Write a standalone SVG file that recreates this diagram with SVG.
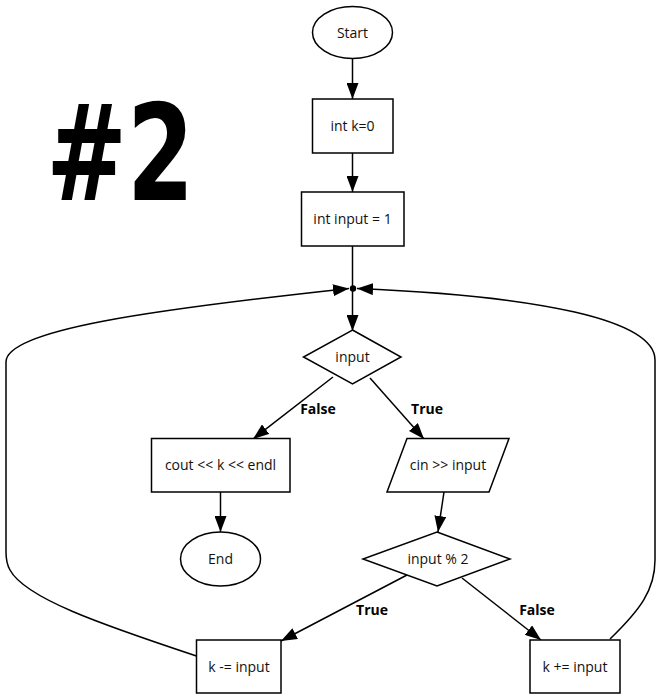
<svg xmlns="http://www.w3.org/2000/svg" width="661" height="700" viewBox="0 0 661 700">
<style>
.n{fill:#fff;stroke:#000;stroke-width:1.5}
.t{font-family:"Open Sans","Noto Sans",sans-serif;font-size:14px;fill:#111;text-anchor:middle}
.l{font-family:"Open Sans","Noto Sans",sans-serif;font-size:14px;font-weight:bold;fill:#000;text-anchor:middle}
.e{fill:none;stroke:#000;stroke-width:1.5}
</style>
<defs>
<marker id="a" markerUnits="userSpaceOnUse" viewBox="0 0 16 12" refX="16" refY="6" markerWidth="16" markerHeight="12" orient="auto">
<path d="M0,0 L16,6 L0,12 z" fill="#000"/>
</marker>
</defs>
<rect width="661" height="700" fill="#fff"/>
<text transform="scale(0.72,1)" x="167" y="200" font-family="DejaVu Sans, sans-serif" font-weight="bold" font-size="134" text-anchor="middle" fill="#000">#2</text>
<g id="connectors">
<path class="e" d="M352.5,59 L352.5,99" marker-end="url(#a)"/>
<path class="e" d="M352.5,153 L352.5,192" marker-end="url(#a)"/>
<path class="e" d="M352.5,246 L352.5,288"/>
<path class="e" d="M352.5,288 L352.5,331" marker-end="url(#a)"/>
<path class="e" d="M333,377 L253,439" marker-end="url(#a)"/>
<path class="e" d="M370,378 L424,439" marker-end="url(#a)"/>
<path class="e" d="M220.5,492 L220.5,532" marker-end="url(#a)"/>
<path class="e" d="M444,492 L438,532" marker-end="url(#a)"/>
<path class="e" d="M407,575 L281,641" marker-end="url(#a)"/>
<path class="e" d="M462,578 L541,640" marker-end="url(#a)"/>
<path class="e" d="M196.5,656 C100,624 25,598 10,570 Q6,563 6,552 L6,362 C6,330 150,310 349,288.5" marker-end="url(#a)"/>
<path class="e" d="M610,639 C640,610 655,590 655,560 L655,360 C655,320 540,296 357,288.5" marker-end="url(#a)"/>
<circle cx="353" cy="288.5" r="3.2" fill="#000"/>
<text class="l" x="318" y="414">False</text>
<text class="l" x="427" y="414">True</text>
<text class="l" x="372" y="615">True</text>
<text class="l" x="537" y="615">False</text>
</g>
<g id="start"><ellipse class="n" cx="352.5" cy="32.5" rx="40" ry="26"/><text class="t" x="352.5" y="37.5">Start</text></g>
<g id="initk"><rect class="n" x="312.5" y="99" width="80.5" height="54"/><text class="t" x="352.5" y="131">int k=0</text></g>
<g id="initinput"><rect class="n" x="301.5" y="192" width="102.5" height="54"/><text class="t" x="352.5" y="224">int input = 1</text></g>
<g id="cond1"><polygon class="n" points="352.5,330 401,357 352.5,384 303.5,357"/><text class="t" x="352.5" y="362">input</text></g>
<g id="cout"><rect class="n" x="151.5" y="438.5" width="138.5" height="53.5"/><text class="t" x="220.5" y="470">cout &lt;&lt; k &lt;&lt; endl</text></g>
<g id="end"><ellipse class="n" cx="220.5" cy="559" rx="40" ry="27"/><text class="t" x="220.5" y="564">End</text></g>
<g id="cin"><polygon class="n" points="407,438.5 509,438.5 489,492 387,492"/><text class="t" x="448" y="470">cin &gt;&gt; input</text></g>
<g id="cond2"><polygon class="n" points="437,532 510,559 437,586 363,559"/><text class="t" x="438" y="564">input % 2</text></g>
<g id="ksub"><rect class="n" x="196.5" y="640" width="84.5" height="53"/><text class="t" x="239" y="671.5">k -= input</text></g>
<g id="kadd"><rect class="n" x="530" y="640" width="90" height="53"/><text class="t" x="575" y="671.5">k += input</text></g>
</svg>
